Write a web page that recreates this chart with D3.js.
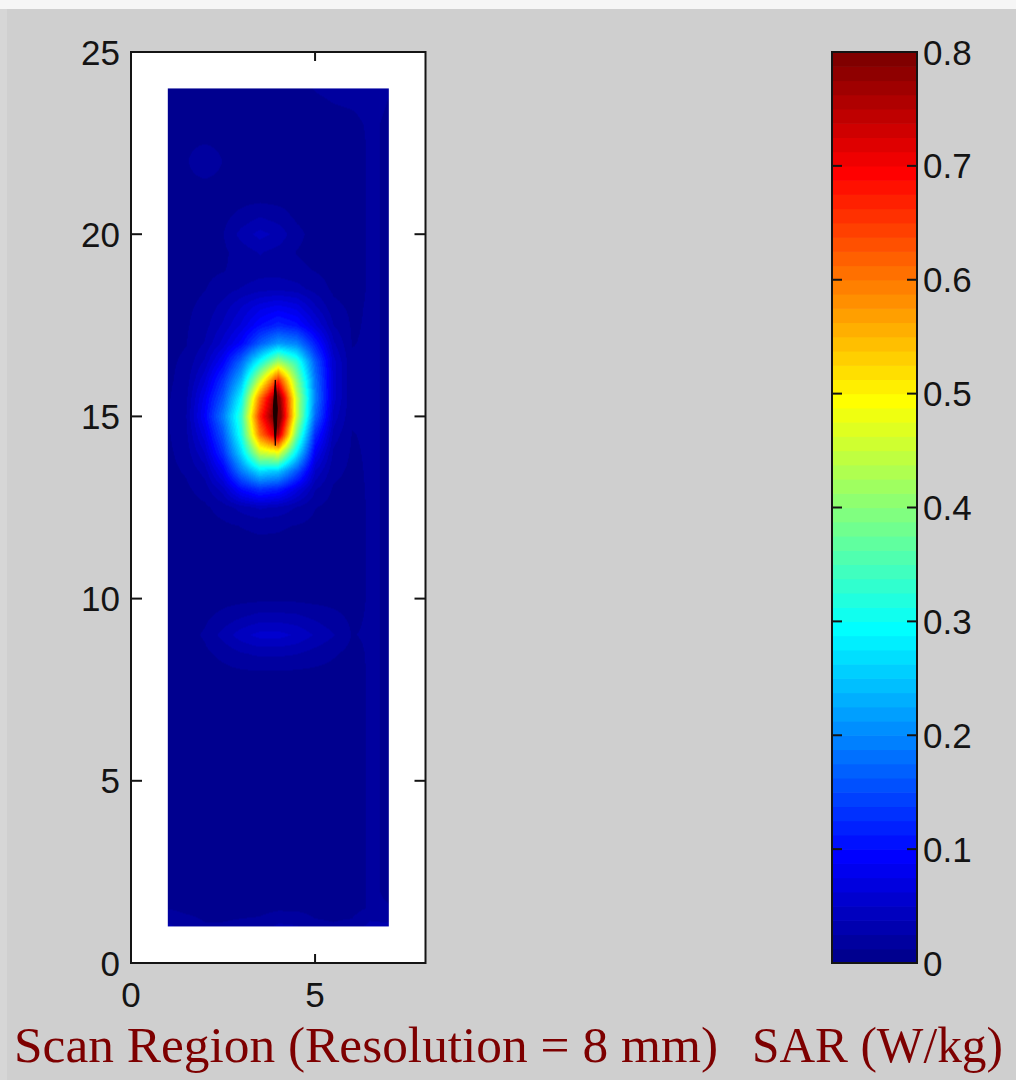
<!DOCTYPE html>
<html>
<head>
<meta charset="utf-8">
<script src="https://cdn.jsdelivr.net/npm/d3@7"></script>
<style>
  html, body { margin: 0; padding: 0; background: #cfcfcf; }
  svg { display: block; }
</style>
</head>
<body>
<svg id="chart" width="1016" height="1080"></svg>
<script>
// ---------------- DATA ----------------
const xTicks = [0, 5];
const yTicks = [0, 5, 10, 15, 20, 25];
const cbTicks = [0, 0.1, 0.2, 0.3, 0.4, 0.5, 0.6, 0.7, 0.8];
const cbTickLabels = ["0", "0.1", "0.2", "0.3", "0.4", "0.5", "0.6", "0.7", "0.8"];
const xLabel = "Scan Region (Resolution = 8 mm)";
const cbLabel = "SAR (W/kg)";

// scan grid positions (x across, y from top row to bottom row)
const gridX = [1, 1.5, 2, 2.5, 3, 3.5, 4, 4.5, 5, 5.5, 6, 6.5, 7];
const gridY = [24, 23.5, 23, 22.5, 22, 21.5, 21, 20.5, 20, 19.5, 19, 18.5, 18, 17.5, 17,
  16.5, 16, 15.5, 15, 14.5, 14, 13.5, 13, 12.5, 12, 11.5, 11, 10.5, 10, 9.5, 9, 8.5, 8,
  7.5, 7, 6.5, 6, 5.5, 5, 4.5, 4, 3.5, 3, 2.5, 2, 1.5, 1];

// SAR values (W/kg), one row per gridY entry, one column per gridX entry
const sar = [
  [.008,.008,.008,.008,.008,.008,.008,.010,.013,.015,.015,.016,.013], // 24
  [.008,.008,.008,.008,.008,.008,.008,.008,.010,.012,.013,.015,.012], // 23.5
  [.008,.008,.008,.008,.008,.008,.008,.008,.008,.008,.010,.014,.011], // 23
  [.008,.009,.012,.009,.008,.008,.008,.008,.008,.008,.008,.014,.011], // 22.5
  [.008,.011,.024,.012,.008,.008,.008,.008,.008,.008,.008,.014,.011], // 22
  [.008,.009,.012,.009,.008,.008,.008,.008,.008,.008,.008,.014,.011], // 21.5
  [.008,.008,.008,.008,.008,.008,.008,.008,.008,.008,.008,.014,.011], // 21
  [.008,.008,.008,.009,.016,.024,.018,.010,.008,.008,.008,.014,.011], // 20.5
  [.008,.008,.008,.012,.030,.042,.034,.016,.008,.008,.008,.014,.011], // 20
  [.008,.008,.008,.010,.018,.026,.020,.012,.008,.008,.008,.014,.011], // 19.5
  [.008,.008,.010,.012,.016,.020,.020,.016,.012,.008,.008,.014,.011], // 19
  [.008,.008,.012,.018,.026,.032,.034,.030,.020,.010,.008,.014,.011], // 18.5
  [.008,.010,.016,.030,.050,.070,.080,.070,.040,.016,.010,.014,.011], // 18
  [.008,.011,.020,.040,.065,.100,.120,.105,.065,.025,.011,.014,.011], // 17.5
  [.009,.012,.026,.055,.095,.165,.215,.195,.115,.040,.012,.014,.011], // 17
  [.010,.015,.040,.090,.175,.300,.420,.330,.165,.055,.014,.014,.011], // 16.5
  [.010,.018,.060,.130,.235,.450,.660,.400,.185,.055,.015,.014,.011], // 16
  [.011,.022,.080,.160,.295,.600,.820,.450,.195,.055,.015,.014,.011], // 15.5
  [.011,.025,.090,.190,.335,.660,.850,.450,.175,.045,.014,.014,.011], // 15
  [.011,.022,.070,.160,.315,.600,.750,.380,.125,.032,.012,.014,.011], // 14.5
  [.010,.018,.050,.130,.265,.450,.480,.280,.085,.022,.011,.014,.011], // 14
  [.009,.014,.030,.085,.190,.270,.250,.160,.050,.016,.010,.014,.011], // 13.5
  [.008,.010,.018,.045,.100,.130,.115,.070,.026,.011,.009,.014,.011], // 13
  [.008,.008,.010,.018,.030,.040,.035,.024,.013,.008,.008,.014,.011], // 12.5
  [.008,.008,.008,.010,.013,.015,.014,.012,.009,.008,.008,.014,.011], // 12
  [.008,.008,.008,.008,.009,.010,.010,.009,.008,.008,.008,.014,.011], // 11.5
  [.008,.008,.008,.008,.008,.008,.008,.008,.008,.008,.008,.014,.011], // 11
  [.008,.008,.008,.008,.008,.008,.008,.008,.008,.008,.008,.014,.011], // 10.5
  [.008,.008,.008,.008,.008,.009,.009,.009,.008,.008,.008,.014,.011], // 10
  [.008,.008,.010,.016,.024,.030,.030,.028,.022,.016,.010,.014,.011], // 9.5
  [.008,.008,.014,.030,.045,.055,.055,.048,.036,.026,.012,.014,.011], // 9
  [.008,.008,.010,.016,.024,.028,.028,.026,.020,.014,.009,.014,.011], // 8.5
  [.008,.008,.008,.009,.011,.012,.012,.011,.010,.009,.008,.014,.011], // 8
  [.008,.008,.008,.008,.008,.008,.008,.008,.008,.008,.008,.014,.011], // 7.5
  [.008,.008,.008,.008,.008,.008,.008,.008,.008,.008,.008,.014,.011], // 7
  [.008,.008,.008,.008,.008,.008,.008,.008,.008,.008,.008,.014,.011], // 6.5
  [.008,.008,.008,.008,.008,.008,.008,.008,.008,.008,.008,.014,.011], // 6
  [.008,.008,.008,.008,.008,.008,.008,.008,.008,.008,.008,.014,.011], // 5.5
  [.008,.008,.008,.008,.008,.008,.008,.008,.008,.008,.008,.014,.011], // 5
  [.008,.008,.008,.008,.008,.008,.008,.008,.008,.008,.008,.014,.011], // 4.5
  [.008,.008,.008,.008,.008,.008,.008,.008,.008,.008,.008,.014,.011], // 4
  [.008,.008,.008,.008,.008,.008,.008,.008,.008,.008,.008,.014,.011], // 3.5
  [.008,.008,.008,.008,.008,.008,.008,.008,.008,.008,.008,.014,.011], // 3
  [.008,.008,.008,.008,.008,.008,.008,.008,.008,.008,.008,.014,.011], // 2.5
  [.008,.008,.008,.008,.008,.008,.008,.008,.008,.008,.008,.014,.011], // 2
  [.012,.009,.008,.008,.008,.008,.010,.010,.008,.008,.008,.014,.013], // 1.5
  [.028,.020,.014,.014,.016,.018,.028,.026,.016,.014,.016,.030,.028]  // 1
];

// peak ridge seen at the hot spot (x, top y, middle y, bottom y)
const peakRidge = { x: 3.92, yTop: 16.0, yMid: 15.2, yBottom: 14.2 };

// ---------------- COLORMAP (MATLAB jet, 64 levels) ----------------
const jet64 = (() => {
  const n = 16, u = [];
  for (let k = 1; k <= n; k++) u.push(k / n);
  for (let k = 0; k < n - 1; k++) u.push(1);
  for (let k = n; k >= 1; k--) u.push(k / n);
  const at = idx => (idx >= 1 && idx <= u.length) ? u[idx - 1] : 0;
  const cols = [];
  for (let i = 1; i <= 64; i++) {
    const r = at(i - 24), g = at(i - 8), b = at(i + 8);
    cols.push(d3.rgb(Math.round(r * 255), Math.round(g * 255), Math.round(b * 255)).formatHex());
  }
  return cols;
})();
const color = d3.scaleQuantize().domain([0, 0.8]).range(jet64);

// ---------------- LAYOUT ----------------
const svg = d3.select("#chart");
const x = d3.scaleLinear().domain([0, 8]).range([131, 425.5]);
const y = d3.scaleLinear().domain([0, 25]).range([963, 52]);
const cy = d3.scaleLinear().domain([0, 0.8]).range([963, 52]);
const cbLeft = 832, cbRight = 917;
const ink = "#141414";
const tickFont = "'Liberation Sans', Arial, sans-serif";

svg.append("rect").attr("x", 0).attr("y", 0).attr("width", 1016).attr("height", 1080).attr("fill", "#cfcfcf");
svg.append("rect").attr("x", 0).attr("y", 0).attr("width", 1016).attr("height", 9).attr("fill", "#f6f6f6");
svg.append("rect").attr("x", 0).attr("y", 9).attr("width", 7).attr("height", 1071).attr("fill", "#d6d6d6");

// axes background
svg.append("rect")
  .attr("x", x(0)).attr("y", y(25))
  .attr("width", x(8) - x(0)).attr("height", y(0) - y(25))
  .attr("fill", "#ffffff");

// heat map image (interpolated shading of the scan grid)
const yAsc = gridY.slice().reverse();
const rowsAsc = sar.slice().reverse();
function locate(arr, v) {
  let i = d3.bisectRight(arr, v) - 1;
  i = Math.max(0, Math.min(arr.length - 2, i));
  let t = (v - arr[i]) / (arr[i + 1] - arr[i]);
  t = Math.max(0, Math.min(1, t));
  return [i, t];
}
function valueAt(xv, yv) {
  const [i, tx] = locate(gridX, xv);
  const [j, ty] = locate(yAsc, yv);
  const a = rowsAsc[j][i], b = rowsAsc[j][i + 1];
  const c = rowsAsc[j + 1][i], d = rowsAsc[j + 1][i + 1];
  return (a * (1 - tx) + b * tx) * (1 - ty) + (c * (1 - tx) + d * tx) * ty;
}
const hx0 = x(gridX[0]), hx1 = x(gridX[gridX.length - 1]);
const hy0 = y(gridY[0]), hy1 = y(gridY[gridY.length - 1]);
const W = Math.round(hx1 - hx0), H = Math.round(hy1 - hy0);
const canvas = document.createElement("canvas");
canvas.width = W; canvas.height = H;
const ctx = canvas.getContext("2d");
const img = ctx.createImageData(W, H);
for (let py = 0; py < H; py++) {
  const yv = y.invert(hy0 + py + 0.5);
  for (let px = 0; px < W; px++) {
    const xv = x.invert(hx0 + px + 0.5);
    const c = d3.rgb(color(valueAt(xv, yv)));
    const k = (py * W + px) * 4;
    img.data[k] = c.r; img.data[k + 1] = c.g; img.data[k + 2] = c.b; img.data[k + 3] = 255;
  }
}
ctx.putImageData(img, 0, 0);
svg.append("image")
  .attr("x", hx0).attr("y", hy0)
  .attr("width", W).attr("height", H)
  .attr("preserveAspectRatio", "none")
  .attr("href", canvas.toDataURL());

// peak ridge
svg.append("path")
  .attr("d", d3.line()([
    [x(peakRidge.x), y(peakRidge.yTop)],
    [x(peakRidge.x) + 2, y(peakRidge.yMid)],
    [x(peakRidge.x), y(peakRidge.yBottom)],
    [x(peakRidge.x) - 2, y(peakRidge.yMid)]
  ]) + "Z")
  .attr("fill", "#1a0000").attr("stroke", "#1a0000").attr("stroke-width", 1);

// axes frame
svg.append("rect")
  .attr("x", x(0)).attr("y", y(25))
  .attr("width", x(8) - x(0)).attr("height", y(0) - y(25))
  .attr("fill", "none").attr("stroke", ink).attr("stroke-width", 2);

// y ticks (left and right, inward)
const yt = svg.append("g");
yTicks.forEach(t => {
  yt.append("line").attr("x1", x(0)).attr("x2", x(0) + 11).attr("y1", y(t)).attr("y2", y(t))
    .attr("stroke", ink).attr("stroke-width", 2);
  yt.append("line").attr("x1", x(8) - 11).attr("x2", x(8)).attr("y1", y(t)).attr("y2", y(t))
    .attr("stroke", ink).attr("stroke-width", 2);
  yt.append("text").attr("x", 120).attr("y", y(t)).attr("dy", "0.36em")
    .attr("text-anchor", "end").attr("font-family", tickFont).attr("font-size", 35)
    .attr("fill", ink).text(t);
});
// x ticks (bottom and top, inward)
const xt = svg.append("g");
xTicks.forEach(t => {
  xt.append("line").attr("x1", x(t)).attr("x2", x(t)).attr("y1", y(0)).attr("y2", y(0) - 9)
    .attr("stroke", ink).attr("stroke-width", 2);
  xt.append("line").attr("x1", x(t)).attr("x2", x(t)).attr("y1", y(25)).attr("y2", y(25) + 9)
    .attr("stroke", ink).attr("stroke-width", 2);
  xt.append("text").attr("x", x(t)).attr("y", 1007)
    .attr("text-anchor", "middle").attr("font-family", tickFont).attr("font-size", 35)
    .attr("fill", ink).text(t);
});

// colorbar
const cb = svg.append("g");
cb.selectAll("rect.band").data(jet64).join("rect")
  .attr("class", "band")
  .attr("x", cbLeft).attr("width", cbRight - cbLeft)
  .attr("y", (d, i) => cy((i + 1) * 0.8 / 64))
  .attr("height", (d, i) => cy(i * 0.8 / 64) - cy((i + 1) * 0.8 / 64) + 0.6)
  .attr("fill", d => d);
cbTicks.forEach((t, i) => {
  if (t > 0 && t < 0.8) {
    cb.append("line").attr("x1", cbLeft).attr("x2", cbLeft + 10).attr("y1", cy(t)).attr("y2", cy(t))
      .attr("stroke", ink).attr("stroke-width", 2);
    cb.append("line").attr("x1", cbRight - 10).attr("x2", cbRight).attr("y1", cy(t)).attr("y2", cy(t))
      .attr("stroke", ink).attr("stroke-width", 2);
  }
  cb.append("text").attr("x", 923).attr("y", cy(t)).attr("dy", "0.36em")
    .attr("font-family", tickFont).attr("font-size", 35).attr("fill", ink).text(cbTickLabels[i]);
});
cb.append("rect")
  .attr("x", cbLeft).attr("y", cy(0.8))
  .attr("width", cbRight - cbLeft).attr("height", cy(0) - cy(0.8))
  .attr("fill", "none").attr("stroke", ink).attr("stroke-width", 2);

// bottom labels
svg.append("text").attr("x", 14).attr("y", 1062)
  .attr("font-family", "'Liberation Serif', 'Times New Roman', serif").attr("font-size", 50)
  .attr("fill", "#7d0000").attr("textLength", 704).attr("lengthAdjust", "spacingAndGlyphs")
  .text(xLabel);
svg.append("text").attr("x", 752).attr("y", 1062)
  .attr("font-family", "'Liberation Serif', 'Times New Roman', serif").attr("font-size", 50)
  .attr("fill", "#7d0000").attr("textLength", 251).attr("lengthAdjust", "spacingAndGlyphs")
  .text(cbLabel);
</script>
</body>
</html>
